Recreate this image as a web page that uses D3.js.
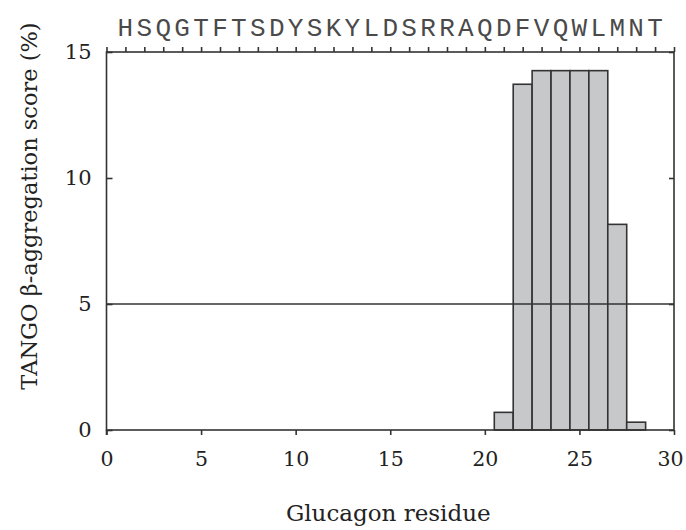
<!DOCTYPE html>
<html><head><meta charset="utf-8">
<script src="https://cdn.jsdelivr.net/npm/d3@7"></script>
<style>body{margin:0;background:#fff}</style>
</head><body>
<svg id="c" width="686" height="530"></svg>
<script>
const residues = [21, 22, 23, 24, 25, 26, 27, 28];
const scores = [0.7, 13.72, 14.26, 14.26, 14.26, 14.26, 8.16, 0.31];
const sequence = "HSQGTFTSDYSKYLDSRRAQDFVQWLMNT".split("");
const xTicks = [0, 5, 10, 15, 20, 25, 30];
const yTicks = [0, 5, 10, 15];
const threshold = 5;

const svg = d3.select("#c");
const L = 106.5, R = 674, T = 52, B = 430;
const x = d3.scaleLinear().domain([0, 30]).range([L, R]);
const y = d3.scaleLinear().domain([0, 15]).range([B, T]);
const ink = "#333";
const serif = "'DejaVu Serif', serif";

// bars
svg.append("g").selectAll("rect").data(residues).join("rect")
  .attr("x", (d) => x(d - 0.5))
  .attr("width", x(1) - x(0))
  .attr("y", (d, i) => y(scores[i]))
  .attr("height", (d, i) => y(0) - y(scores[i]))
  .attr("fill", "#c7c8ca").attr("stroke", ink).attr("stroke-width", 1.6);

// threshold line
svg.append("line").attr("x1", x(0)).attr("x2", x(30))
  .attr("y1", y(threshold)).attr("y2", y(threshold))
  .attr("stroke", ink).attr("stroke-width", 1.6);

function styleAxis(g) {
  g.selectAll("path,line").attr("stroke", ink).attr("stroke-width", 1.6);
  g.select(".domain").remove();
}
// bottom axis
const gb = svg.append("g").attr("transform", `translate(0,${B})`)
  .call(d3.axisBottom(x).tickValues(xTicks).tickSize(5).tickPadding(16).tickSizeOuter(0));
styleAxis(gb);
gb.selectAll("text").attr("font-family", serif).attr("font-size", 20.5).attr("fill", "#222")
  .attr("dx", (d) => d === 30 ? -4 : 0);
// left axis
const gl = svg.append("g").attr("transform", `translate(${L},0)`)
  .call(d3.axisRight(y).tickValues(yTicks).tickSize(6).tickSizeOuter(0));
styleAxis(gl);
gl.selectAll("text").attr("x", -15).attr("text-anchor", "end")
  .attr("font-family", serif).attr("font-size", 21).attr("fill", "#222");
// right axis
const gr = svg.append("g").attr("transform", `translate(${R},0)`)
  .call(d3.axisLeft(y).tickValues(yTicks).tickSize(5).tickSizeOuter(0));
styleAxis(gr);
gr.selectAll("text").remove();
// top axis
const gt = svg.append("g").attr("transform", `translate(0,${T})`)
  .call(d3.axisTop(x).tickValues(d3.range(0, 31)).tickSize(5).tickSizeOuter(0));
styleAxis(gt);
gt.selectAll("text").remove();

// frame
svg.append("rect").attr("x", L).attr("y", T).attr("width", R - L).attr("height", B - T)
  .attr("fill", "none").attr("stroke", ink).attr("stroke-width", 1.6);
svg.append("line").attr("x1", L).attr("x2", L).attr("y1", B).attr("y2", B + 5).attr("stroke", ink).attr("stroke-width", 1.6);

// sequence letters
svg.append("g").selectAll("text").data(sequence).join("text")
  .attr("x", (d, i) => x(i + 1)).attr("y", 36)
  .attr("text-anchor", "middle")
  .attr("font-family", "'Liberation Mono', monospace").attr("font-size", 26)
  .attr("fill", "#4a4a4a").text((d) => d);

// axis titles
svg.append("text").attr("x", (L + R) / 2 - 2).attr("y", 521).attr("text-anchor", "middle")
  .attr("font-family", serif).attr("font-size", 23).attr("fill", "#222").text("Glucagon residue");
svg.append("text").attr("transform", "translate(37,206) rotate(-90)").attr("text-anchor", "middle")
  .attr("font-family", serif).attr("font-size", 22.5).attr("fill", "#222").text("TANGO β-aggregation score (%)");
</script>
</body></html>
